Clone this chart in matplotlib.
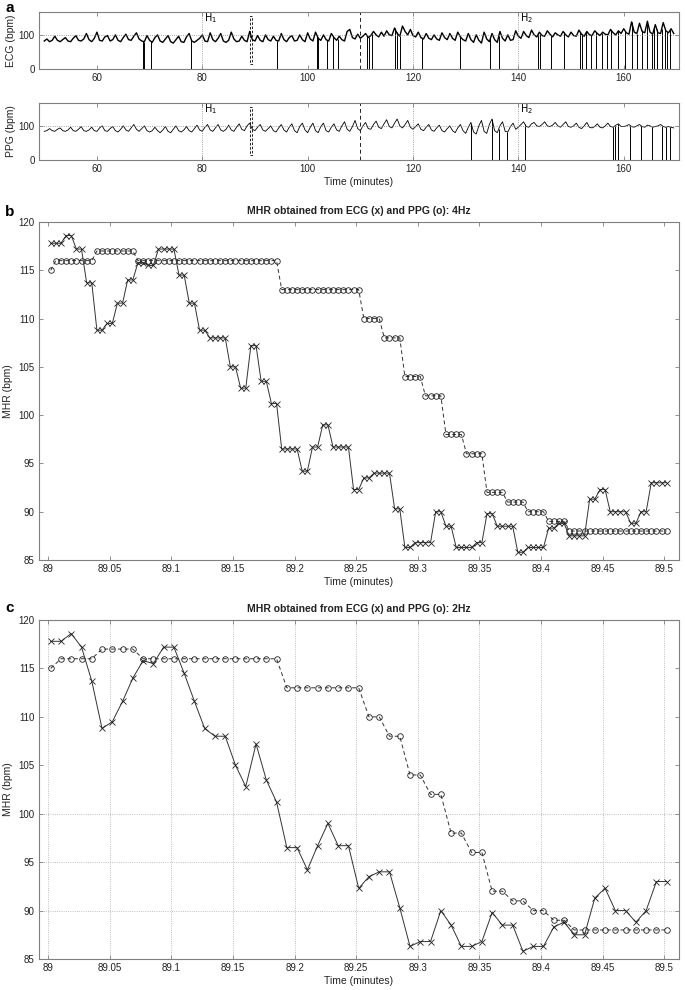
import numpy as np
import matplotlib
matplotlib.use("Agg")
import matplotlib.pyplot as plt
from matplotlib.patches import Rectangle

plt.rcParams['font.family'] = ['Liberation Sans', 'DejaVu Sans']

# Panel a: heart rate over the whole session (one value per half minute)
ecg_rate = [
    82, 88, 80, 84, 96, 84, 80, 86, 92, 82, 80, 90, 98, 84, 82, 88, 104, 86, 80, 90,
    108, 84, 82, 94, 98, 82, 86, 100, 84, 80, 92, 102, 86, 84, 96, 106, 88, 82, 80, 98,
    84, 78, 92, 100, 82, 78, 88, 98, 80, 76, 86, 96, 80, 78, 94, 104, 82, 78, 84, 90,
    100, 82, 80, 106, 86, 80, 90, 104, 82, 78, 84, 108, 88, 80, 82, 96, 84, 80, 110, 86,
    82, 98, 84, 80, 100, 86, 82, 96, 84, 82, 104, 86, 80, 92, 98, 82, 84, 100, 86, 80,
    106, 88, 82, 108, 90, 84, 100, 86, 82, 104, 92, 84, 96, 86, 82, 110, 116, 92, 88, 102,
    90, 96, 104, 92, 98, 110, 100, 94, 108, 96, 112, 100, 98, 120, 104, 96, 126, 110, 100, 116,
    98, 94, 108, 92, 88, 104, 90, 86, 100, 88, 84, 106, 92, 86, 104, 90, 84, 108, 94, 86,
    82, 104, 86, 78, 100, 84, 76, 108, 88, 80, 104, 86, 78, 110, 90, 82, 100, 84, 86, 112,
    96, 90, 110, 98, 92, 114, 100, 94, 108, 98, 96, 112, 102, 94, 106, 100, 96, 110, 100, 94,
    108, 98, 96, 114, 102, 96, 110, 100, 98, 112, 104, 98, 108, 102, 100, 116, 106, 100, 112, 104,
    118, 106, 102, 138, 108, 104, 134, 110, 106, 140, 108, 102, 130, 106, 104, 136, 112, 106, 118, 104,
]
ppg_rate = [
    84, 86, 92, 86, 84, 90, 94, 86, 84, 88, 96, 86, 84, 90, 98, 86, 84, 88, 96, 86,
    84, 94, 100, 86, 84, 92, 98, 86, 82, 90, 100, 88, 84, 94, 104, 90, 84, 92, 100, 86,
    82, 86, 96, 86, 80, 88, 98, 84, 80, 90, 100, 86, 82, 88, 98, 86, 82, 92, 102, 88,
    84, 96, 104, 88, 84, 94, 104, 88, 84, 90, 102, 88, 84, 96, 106, 90, 86, 100, 108, 90,
    86, 96, 104, 88, 84, 92, 100, 86, 82, 94, 104, 88, 82, 96, 106, 86, 80, 98, 108, 88,
    80, 96, 108, 86, 80, 98, 108, 86, 82, 96, 106, 88, 84, 100, 112, 90, 84, 98, 116, 92,
    86, 100, 110, 92, 90, 104, 114, 96, 92, 106, 118, 98, 94, 108, 120, 100, 94, 104, 116, 96,
    90, 98, 106, 90, 86, 96, 104, 88, 84, 94, 102, 86, 82, 92, 100, 86, 80, 94, 104, 86,
    78, 96, 110, 82, 76, 100, 116, 84, 78, 104, 120, 86, 80, 100, 112, 84, 82, 98, 108, 90,
    96, 104, 112, 98, 96, 106, 110, 100, 98, 104, 112, 100, 98, 102, 110, 100, 96, 104, 112, 98,
    96, 100, 108, 96, 92, 100, 110, 96, 94, 98, 106, 96, 94, 100, 108, 98, 96, 102, 106, 98,
    98, 100, 104, 98, 96, 100, 104, 98, 96, 102, 100, 96, 98, 100, 104, 98, 96, 98, 96, 94,
]
ecg_dropouts = [68.8, 69.0, 70.25, 77.9, 94.2, 101.7, 101.9, 103.6, 104.8, 105.7,
                111.3, 111.7, 112.2, 116.5, 116.9, 117.5, 121.7, 129.0, 134.7, 136.3,
                143.8, 144.2, 146.25, 148.6, 151.7, 152.0, 152.9, 153.75, 154.8, 155.9,
                156.9, 157.6, 159.0, 160.25, 161.5, 162.5, 163.4, 164.4, 165.4, 165.8,
                166.25, 167.2, 167.9, 168.3, 168.8]
ppg_dropouts = [131.1, 135.0, 136.25, 137.9, 141.25, 157.9, 158.3, 159.0, 161.25,
                163.3, 165.4, 167.3, 168.0, 168.8]

# Panels b/c: MHR at 2 Hz and 4 Hz, 89.0 - 89.5 min
ecg_2hz = [117.8, 117.8, 118.6, 117.2, 113.7, 108.8, 109.5, 111.6, 114.0, 115.8,
           115.5, 117.2, 117.2, 114.5, 111.6, 108.8, 108.0, 108.0, 105.0, 102.8,
           107.2, 103.5, 101.2, 96.5, 96.5, 94.2, 96.7, 99.0, 96.7, 96.7,
           92.3, 93.5, 94.0, 94.0, 90.3, 86.3, 86.8, 86.8, 90.0, 88.5,
           86.3, 86.3, 86.8, 89.8, 88.5, 88.5, 85.8, 86.3, 86.3, 88.3,
           88.8, 87.5, 87.5, 91.3, 92.3, 90.0, 90.0, 88.8, 90.0, 93.0, 93.0]
ppg_2hz = [115, 116, 116, 116, 116, 117, 117, 117, 117, 116,
           116, 116, 116, 116, 116, 116, 116, 116, 116, 116,
           116, 116, 116, 113, 113, 113, 113, 113, 113, 113,
           113, 110, 110, 108, 108, 104, 104, 102, 102, 98,
           98, 96, 96, 92, 92, 91, 91, 90, 90, 89,
           89, 88, 88, 88, 88, 88, 88, 88, 88, 88, 88]
ecg_4hz = [117.8, 117.8, 117.8, 118.6, 118.6, 117.2, 117.2, 113.7, 113.7, 108.8,
           108.8, 109.5, 109.5, 111.6, 111.6, 114.0, 114.0, 115.8, 115.8, 115.5,
           115.5, 117.2, 117.2, 117.2, 117.2, 114.5, 114.5, 111.6, 111.6, 108.8,
           108.8, 108.0, 108.0, 108.0, 108.0, 105.0, 105.0, 102.8, 102.8, 107.2,
           107.2, 103.5, 103.5, 101.2, 101.2, 96.5, 96.5, 96.5, 96.5, 94.2,
           94.2, 96.7, 96.7, 99.0, 99.0, 96.7, 96.7, 96.7, 96.7, 92.3,
           92.3, 93.5, 93.5, 94.0, 94.0, 94.0, 94.0, 90.3, 90.3, 86.3,
           86.3, 86.8, 86.8, 86.8, 86.8, 90.0, 90.0, 88.5, 88.5, 86.3,
           86.3, 86.3, 86.3, 86.8, 86.8, 89.8, 89.8, 88.5, 88.5, 88.5,
           88.5, 85.8, 85.8, 86.3, 86.3, 86.3, 86.3, 88.3, 88.3, 88.8,
           88.8, 87.5, 87.5, 87.5, 87.5, 91.3, 91.3, 92.3, 92.3, 90.0,
           90.0, 90.0, 90.0, 88.8, 88.8, 90.0, 90.0, 93.0, 93.0, 93.0, 93.0]
ppg_4hz = [115, 116, 116, 116, 116, 116, 116, 116, 116, 117,
           117, 117, 117, 117, 117, 117, 117, 116, 116, 116,
           116, 116, 116, 116, 116, 116, 116, 116, 116, 116,
           116, 116, 116, 116, 116, 116, 116, 116, 116, 116,
           116, 116, 116, 116, 116, 113, 113, 113, 113, 113,
           113, 113, 113, 113, 113, 113, 113, 113, 113, 113,
           113, 110, 110, 110, 110, 108, 108, 108, 108, 104,
           104, 104, 104, 102, 102, 102, 102, 98, 98, 98,
           98, 96, 96, 96, 96, 92, 92, 92, 92, 91,
           91, 91, 91, 90, 90, 90, 90, 89, 89, 89,
           89, 88, 88, 88, 88, 88, 88, 88, 88, 88,
           88, 88, 88, 88, 88, 88, 88, 88, 88, 88, 88]

t_long = 50 + 0.5 * np.arange(len(ecg_rate))
t_2hz = 89.002 + np.arange(len(ecg_2hz)) / 120
t_4hz = 89.002 + np.arange(len(ecg_4hz)) / 240

W, H = 685, 990
fig = plt.figure(figsize=(W / 100, H / 100), dpi=100)

def box(left, top, right, bottom):
    return [left / W, 1 - bottom / H, (right - left) / W, (bottom - top) / H]

spine_col = '#7f7f7f'
txt_col = '#222222'

def matlab_axes(ax):
    for s in ax.spines.values():
        s.set_color(spine_col)
        s.set_linewidth(0.8)
    ax.tick_params(direction='in', top=True, right=True, length=3, width=0.6,
                   colors=spine_col, labelcolor=txt_col, labelsize=7, pad=3)

# ---- panel a
ax_e = fig.add_axes(box(39, 12, 679, 69))
ax_p = fig.add_axes(box(39, 103, 679, 160))
for ax, rate, drops, lab, lw in [(ax_e, ecg_rate, ecg_dropouts, 'ECG (bpm)', 1.0),
                                 (ax_p, ppg_rate, ppg_dropouts, 'PPG (bpm)', 0.6)]:
    ax.plot(t_long, rate, color='black', lw=lw)
    # dropouts fall from the trace down to zero
    ax.vlines(drops, 0, np.interp(drops, t_long, rate), color='black', lw=0.7)
    for xv in [80, 120, 140]:
        ax.axvline(xv, color='#888888', lw=0.6, ls=':')
    ax.axhline(100, color='#888888', lw=0.6, ls=':')
    ax.axvline(110, color='#222222', lw=0.7, ls=(0, (4, 3)))
    ax.add_patch(Rectangle((89, 15), 0.5, 140, fill=False, ec='black', lw=0.6,
                           ls=(0, (3, 2))))
    ax.text(80.4, 150, r'$\mathrm{H_1}$', fontsize=7, va='center')
    ax.text(140.4, 150, r'$\mathrm{H_2}$', fontsize=7, va='center')
    ax.set_xlim(49, 170.5)
    ax.set_ylim(0, 167)
    ax.set_xticks([60, 80, 100, 120, 140, 160])
    ax.set_yticks([0, 100])
    ax.set_ylabel(lab, fontsize=7.5, color=txt_col, labelpad=2)
    matlab_axes(ax)
ax_p.set_xlabel('Time (minutes)', fontsize=7.5, color=txt_col, labelpad=2)

# ---- panels b and c
ax_b = fig.add_axes(box(39, 222, 679, 560))
ax_c = fig.add_axes(box(39, 620, 679, 959))
panels = [(ax_b, t_4hz, ecg_4hz, ppg_4hz, '4Hz'), (ax_c, t_2hz, ecg_2hz, ppg_2hz, '2Hz')]
for ax, tt, ecg, ppg, hz in panels:
    ax.plot(tt, ppg, color='#333333', lw=0.7, ls=(0, (4, 3)), marker='o', ms=4,
            mfc='none', mec='#222222', mew=0.6)
    ax.plot(tt, ecg, color='#333333', lw=0.7, marker='x', ms=4, mec='#222222', mew=0.6)
    ax.set_xlim(88.9925, 89.512)
    ax.set_ylim(85, 120)
    ax.set_xticks([89, 89.05, 89.1, 89.15, 89.2, 89.25, 89.3, 89.35, 89.4, 89.45, 89.5])
    ax.set_xticklabels(['89', '89.05', '89.1', '89.15', '89.2', '89.25', '89.3',
                        '89.35', '89.4', '89.45', '89.5'])
    ax.set_yticks([85, 90, 95, 100, 105, 110, 115, 120])
    ax.set_title('MHR obtained from ECG (x) and PPG (o): ' + hz, fontsize=7.5,
                 fontweight='bold', color=txt_col, pad=6)
    ax.set_xlabel('Time (minutes)', fontsize=7.5, color=txt_col, labelpad=2)
    ax.set_ylabel('MHR (bpm)', fontsize=7.5, color=txt_col, labelpad=4)
    matlab_axes(ax)

ax_c.grid(axis='x', color='#aaaaaa', lw=0.6, ls=':')
for yv in [90, 95, 100]:
    ax_c.axhline(yv, color='#aaaaaa', lw=0.6, ls=':', zorder=0)

fig.text(5 / W, 1 - 8 / H, 'a', fontsize=11, fontweight='bold', va='center')
fig.text(5 / W, 1 - 212 / H, 'b', fontsize=11, fontweight='bold', va='center')
fig.text(5 / W, 1 - 608 / H, 'c', fontsize=11, fontweight='bold', va='center')

fig.savefig('out.png', dpi=100)
